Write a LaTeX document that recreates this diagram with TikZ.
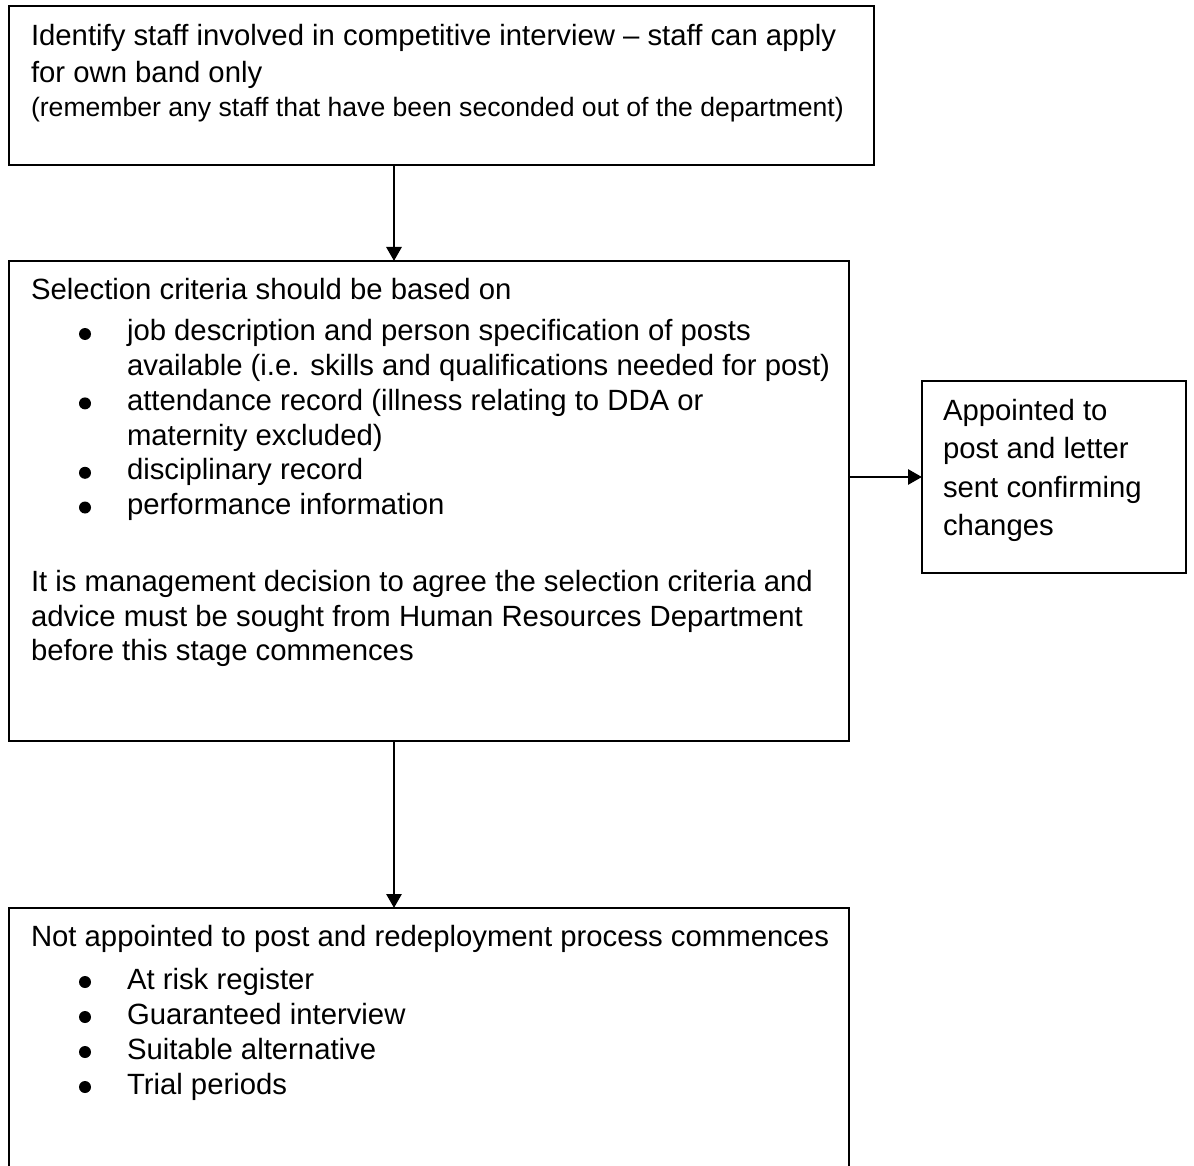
\documentclass[tikz,border=0pt]{standalone}
\usepackage{fontspec}
\setmainfont{Liberation Sans}
\usetikzlibrary{arrows.meta}
\begin{document}
\begin{tikzpicture}[x=1pt,y=-1pt,
  box/.style={draw=black, line width=2.8pt, rectangle, inner sep=0pt, outer sep=0pt, anchor=north west},
  openbox/.style={rectangle, inner sep=0pt, outer sep=0pt, anchor=north west},
  txt/.style={anchor=base west, inner sep=0pt, outer sep=0pt, font=\fontsize{29.3pt}{35pt}\selectfont},
  smalltxt/.style={txt, font=\fontsize{26.6pt}{32pt}\selectfont},
  conn/.style={line width=2.8pt, -{Triangle[length=14pt,width=15pt]}},
  bul/.style={circle, fill=black, inner sep=0pt, outer sep=0pt, minimum size=12pt}]
\useasboundingbox (0,0) rectangle (1194,1166);
\fill[white] (0,0) rectangle (1194,1166);

% boxes
\node[box, minimum width=865pt, minimum height=159pt] (b1) at (9,6) {};
\node[box, minimum width=840pt, minimum height=480pt] (b2) at (9,261) {};
\node[box, minimum width=264pt, minimum height=192pt] (b4) at (922,381) {};
\node[openbox, minimum width=840pt, minimum height=280pt] (b3) at (9,908) {};
\draw[line width=2.8pt] (b3.south west) -- (b3.north west) -- (b3.north east) -- (b3.south east);

% connectors
\coordinate (cx) at (394,0);
\coordinate (cy) at (0,477);
\draw[conn] (b1.south -| cx) -- (b2.north -| cx);
\draw[conn] (b2.south -| cx) -- (b3.north -| cx);
\draw[conn] (b2.east |- cy) -- (b4.west |- cy);

% box 1 text
\node[txt] (t1a) at (31,46) {Identify staff involved in competitive interview – staff can apply};
\node[txt] (t1b) at (31,83) {for own band only};
\node[smalltxt] (t1c) at (31,117) {(remember any staff that have been seconded out of the department)};

% box 2 text
\node[txt] (t2a) at (31,300) {Selection criteria should be based on};
\node[txt] (t2b) at (127,341) {job description and person specification of posts};
\node[txt] (t2c) at (127,375.7) {available (i.e. skills and qualifications needed for post)};
\node[txt] (t2d) at (127,410.4) {attendance record (illness relating to DDA or};
\node[txt] (t2e) at (127,445.1) {maternity excluded)};
\node[txt] (t2f) at (127,479.8) {disciplinary record};
\node[txt] (t2g) at (127,514.5) {performance information};
\node[txt] (t2h) at (31,591) {It is management decision to agree the selection criteria and};
\node[txt] (t2i) at (31,626) {advice must be sought from Human Resources Department};
\node[txt] (t2j) at (31,660) {before this stage commences};
\node[bul] (d1) at (85,334) {};
\node[bul] (d2) at (85,403.4) {};
\node[bul] (d3) at (85,472.8) {};
\node[bul] (d4) at (85,507.5) {};

% box 4 text
\node[txt] (t4a) at (943,420) {Appointed to};
\node[txt] (t4b) at (943,458) {post and letter};
\node[txt] (t4c) at (943,497) {sent confirming};
\node[txt] (t4d) at (943,535) {changes};

% box 3 text
\node[txt] (t3a) at (31,946) {Not appointed to post and redeployment process commences};
\node[txt] (t3b) at (127,989) {At risk register};
\node[txt] (t3c) at (127,1024) {Guaranteed interview};
\node[txt] (t3d) at (127,1059) {Suitable alternative};
\node[txt] (t3e) at (127,1094) {Trial periods};
\node[bul] (d5) at (85,982) {};
\node[bul] (d6) at (85,1017) {};
\node[bul] (d7) at (85,1052) {};
\node[bul] (d8) at (85,1087) {};
\end{tikzpicture}
\end{document}
